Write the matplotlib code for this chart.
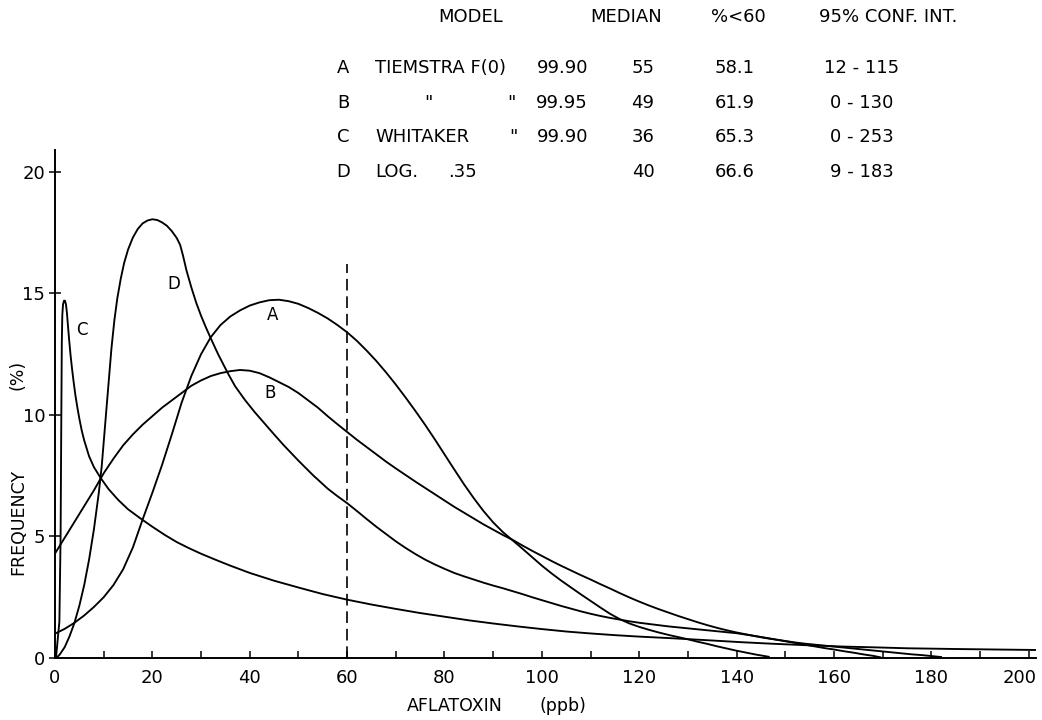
import matplotlib
matplotlib.use("Agg")
import matplotlib.pyplot as plt
from matplotlib.ticker import MultipleLocator
from matplotlib.transforms import ScaledTranslation

plt.rcParams['font.family'] = ['DejaVu Sans']

# curve A - Tiemstra F(0) 99.90
a_x = [0, 2, 4, 6, 8, 10, 12, 14, 16, 18, 20, 22, 24, 26, 28, 30, 32, 34, 36, 38, 40, 42, 44, 46,
       48, 50, 52, 54, 56, 58, 60, 62, 64, 66, 68, 70, 72, 74, 76, 78, 80, 82, 84, 86, 88, 90, 92,
       94, 96, 98, 100, 102, 104, 106, 108, 110, 112, 114, 116, 118, 120, 122, 124, 126, 128, 130,
       132, 134, 136, 138, 140, 142, 144, 146.6]
a_y = [1.0, 1.2, 1.45, 1.75, 2.1, 2.5, 3.0, 3.65, 4.55, 5.7, 6.8, 7.95, 9.2, 10.5, 11.6, 12.5,
       13.2, 13.7, 14.05, 14.3, 14.5, 14.63, 14.72, 14.74, 14.68, 14.57, 14.4, 14.2, 13.97, 13.7,
       13.4, 13.05, 12.65, 12.22, 11.75, 11.25, 10.72, 10.17, 9.6, 9.0, 8.38, 7.76, 7.15, 6.58,
       6.05, 5.58, 5.18, 4.84, 4.5, 4.15, 3.8, 3.48, 3.18, 2.9, 2.62, 2.35, 2.08, 1.82, 1.6, 1.42,
       1.28, 1.16, 1.05, 0.95, 0.86, 0.77, 0.67, 0.58, 0.48, 0.39, 0.3, 0.22, 0.14, 0.05]

# curve B - Tiemstra 99.95
b_x = [0, 2, 4, 6, 8, 10, 12, 14, 16, 18, 20, 22, 24, 26, 28, 30, 32, 34, 36, 38, 40, 42, 44, 46,
       48, 50, 52, 54, 56, 58, 60, 62, 64, 66, 68, 70, 72, 74, 76, 78, 80, 82, 84, 86, 88, 90, 92,
       94, 96, 98, 100, 102, 104, 106, 108, 110, 112, 114, 116, 118, 120, 122, 124, 126, 128, 130,
       132, 134, 136, 138, 140, 142, 144, 146, 148, 150, 152, 154, 156, 158, 160, 162, 164, 166,
       168, 170, 172, 174, 176, 178, 180, 182]
b_y = [4.3, 4.95, 5.6, 6.25, 6.9, 7.6, 8.2, 8.75, 9.2, 9.6, 9.95, 10.3, 10.6, 10.9, 11.2, 11.42,
       11.6, 11.72, 11.8, 11.85, 11.82, 11.72, 11.55, 11.35, 11.15, 10.9, 10.6, 10.3, 9.95, 9.62,
       9.3, 8.98, 8.68, 8.38, 8.08, 7.8, 7.53, 7.26, 7.0, 6.74, 6.48, 6.22, 5.98, 5.74, 5.5, 5.28,
       5.06, 4.86, 4.63, 4.41, 4.2, 3.99, 3.79, 3.6, 3.41, 3.23, 3.04, 2.86, 2.67, 2.49, 2.32, 2.16,
       2.01, 1.87, 1.73, 1.6, 1.47, 1.35, 1.24, 1.14, 1.05, 0.97, 0.89, 0.82, 0.76, 0.7, 0.64, 0.59,
       0.55, 0.51, 0.47, 0.43, 0.39, 0.35, 0.31, 0.27, 0.23, 0.19, 0.15, 0.12, 0.08, 0.04]

# curve C - Whitaker 99.90
c_x = [0.2, 0.9, 1.15, 1.3, 1.4, 1.5, 1.65, 1.85, 2.05, 2.25, 2.45, 2.65, 2.9, 3.2, 3.5, 3.8, 4.2,
       4.6, 5.0, 5.5, 6, 7, 8, 9.4, 11, 13, 15, 17.5, 20, 22.5, 25, 27.5, 30, 33, 36, 40, 45, 50,
       55, 60, 65, 70, 75, 80, 85, 90, 95, 100, 105, 110, 115, 120, 127, 135, 141, 147, 155, 162,
       168, 175, 185, 193, 201.5]
c_y = [0, 1.5, 5, 10, 13, 14.1, 14.55, 14.7, 14.7, 14.55, 14.2, 13.7, 13.1, 12.45, 11.9, 11.4,
       10.8, 10.3, 9.85, 9.35, 8.95, 8.3, 7.85, 7.4, 6.95, 6.5, 6.12, 5.75, 5.4, 5.07, 4.77, 4.52,
       4.29, 4.04, 3.8, 3.5, 3.18, 2.9, 2.63, 2.4, 2.2, 2.02, 1.85, 1.7, 1.55, 1.42, 1.3, 1.19,
       1.09, 1.01, 0.94, 0.88, 0.81, 0.72, 0.65, 0.59, 0.52, 0.47, 0.44, 0.4, 0.37, 0.35, 0.33]

# curve D - log .35
d_x = [0.3, 1, 2, 3, 4, 5, 6, 7, 8, 9, 9.6, 10.3, 11, 11.6, 12.2, 12.8, 13.5, 14.2, 15, 16, 17,
       18, 19, 20, 21, 22, 23, 24, 25, 25.7, 26.3, 27, 28, 29, 30, 31, 32, 33.5, 35.6, 37, 39, 41,
       43, 45, 47, 50, 53, 56, 58, 60, 62, 64, 66, 68, 70, 72, 74, 76, 78, 80, 82, 84, 86, 88, 90,
       92, 94, 96, 98, 100, 102, 104, 106, 108, 110, 112, 114, 116, 118, 120, 122, 124, 126, 128,
       130, 132, 134, 136, 138, 140, 142, 144, 146, 148, 150, 152, 154, 156, 158, 160, 162, 164,
       166, 168, 169.5]
d_y = [0, 0.15, 0.45, 0.9, 1.45, 2.15, 3.0, 4.05, 5.3, 6.8, 7.9, 9.6, 11.3, 12.75, 13.9, 14.8,
       15.6, 16.25, 16.8, 17.3, 17.65, 17.88, 18.0, 18.05, 18.02, 17.92, 17.78, 17.56, 17.28, 17.0,
       16.55, 15.95, 15.25, 14.62, 14.08, 13.6, 13.15, 12.5, 11.68, 11.18, 10.62, 10.12, 9.66, 9.2,
       8.75, 8.12, 7.52, 6.97, 6.66, 6.37, 6.05, 5.72, 5.4, 5.1, 4.8, 4.53, 4.28, 4.05, 3.85, 3.67,
       3.5, 3.36, 3.23, 3.1, 2.98, 2.87, 2.75, 2.63, 2.5, 2.38, 2.26, 2.14, 2.03, 1.92, 1.82, 1.73,
       1.65, 1.58, 1.51, 1.45, 1.4, 1.35, 1.3, 1.26, 1.22, 1.18, 1.14, 1.1, 1.06, 1.02, 0.96, 0.9,
       0.83, 0.76, 0.69, 0.62, 0.55, 0.48, 0.41, 0.35, 0.28, 0.22, 0.15, 0.09, 0.03]

# table
models = ['A', 'B', 'C', 'D']
medians = [55, 49, 36, 40]
pct_below = ['58.1', '61.9', '65.3', '66.6']
ci_low = [12, 0, 0, 9]
ci_high = [115, 130, 253, 183]

W, H = 1042, 720
fig = plt.figure(figsize=(W / 100, H / 100), dpi=100)
ax = fig.add_axes([55 / W, 1 - 658 / H, (1036 - 55) / W, (658 - 150) / H])

for xs, ys in [(a_x, a_y), (b_x, b_y), (c_x, c_y), (d_x, d_y)]:
    ax.plot(xs, ys, color='black', lw=1.35, solid_joinstyle='round')

ax.plot([60, 60], [0, 16.2], color='black', lw=1.2, dashes=(7, 3.5))

ax.text(44.6, 14.1, 'A', fontsize=12, ha='center', va='center')
ax.text(44.2, 10.9, 'B', fontsize=12, ha='center', va='center')
ax.text(5.6, 13.5, 'C', fontsize=12, ha='center', va='center')
ax.text(24.4, 15.4, 'D', fontsize=12, ha='center', va='center')

ax.set_xlim(0, 201.5)
ax.set_ylim(0, 20.9)
ax.spines['top'].set_visible(False)
ax.spines['right'].set_visible(False)
ax.spines['left'].set_linewidth(1.4)
ax.spines['bottom'].set_linewidth(1.4)
ax.set_xticks(range(0, 201, 20))
ax.xaxis.set_minor_locator(MultipleLocator(10))
ax.yaxis.set_major_locator(MultipleLocator(5))
ax.tick_params(axis='x', which='both', direction='in', length=5, width=1.1, labelsize=13, pad=8)
ax.tick_params(axis='y', direction='inout', length=8, width=1.1, labelsize=13, pad=3)

# last x label sits left of its tick so it stays inside the picture
last = ax.xaxis.get_major_ticks()[-1].label1
last.set_horizontalalignment('right')
last.set_transform(last.get_transform() + ScaledTranslation(0.08, 0, fig.dpi_scale_trans))

def px(x, y):
    return x / W, 1 - y / H

fig.text(*px(455, 706), 'AFLATOXIN', fontsize=12.5, ha='center', va='center')
fig.text(*px(563, 706), '(ppb)', fontsize=12.5, ha='center', va='center')
fig.text(*px(18, 522), 'FREQUENCY', fontsize=12.5, ha='center', va='center', rotation=90)
fig.text(*px(18, 375), '(%)', fontsize=12.5, ha='center', va='center', rotation=90)

# header of the table
fs = 13
for x, s in [(471, 'MODEL'), (626, 'MEDIAN'), (738, '%<60'), (888, '95% CONF. INT.')]:
    fig.text(*px(x, 17), s, fontsize=fs, ha='center', va='center')

rows_y = [68, 103, 137, 172]
names = [[(375, 'left', 'TIEMSTRA F(0)'), (588, 'right', '99.90')],
         [(428, 'center', '"'), (511, 'center', '"'), (588, 'right', '99.95')],
         [(375, 'left', 'WHITAKER'), (513, 'center', '"'), (588, 'right', '99.90')],
         [(375, 'left', 'LOG.'), (448, 'left', '.35')]]
for i, y in enumerate(rows_y):
    fig.text(*px(343, y), models[i], fontsize=fs, ha='center', va='center')
    for x, ha, s in names[i]:
        fig.text(*px(x, y), s, fontsize=fs, ha=ha, va='center')
    fig.text(*px(643, y), str(medians[i]), fontsize=fs, ha='center', va='center')
    fig.text(*px(735, y), pct_below[i], fontsize=fs, ha='center', va='center')
    fig.text(*px(862, y), f'{ci_low[i]} - {ci_high[i]}', fontsize=fs, ha='center', va='center')

fig.savefig('out.png', dpi=100)
